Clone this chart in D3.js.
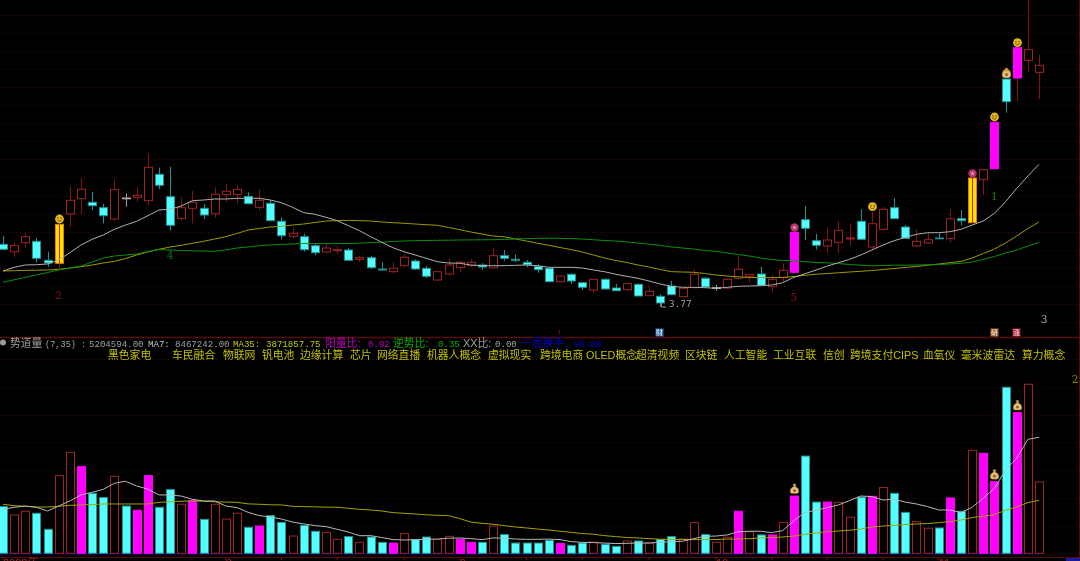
<!DOCTYPE html>
<html><head><meta charset="utf-8">
<script src="https://cdn.jsdelivr.net/npm/d3@7/dist/d3.min.js"></script>
<style>html,body{margin:0;padding:0;background:#000;overflow:hidden}svg{display:block;filter:blur(.3px)}</style>
</head><body><svg id="c" width="1080" height="561"></svg>
<script>
const opens=[4.397,4.323,4.413,4.427,4.237,4.207,4.70,4.853,4.817,4.763,
4.65,4.86,4.867,4.833,5.097,4.873,4.657,4.757,4.757,4.703,
4.893,4.897,4.877,4.767,4.807,4.627,4.477,4.473,4.383,4.32,
4.333,4.34,4.247,4.263,4.15,4.123,4.183,4.23,4.157,4.04,
4.10,4.167,4.183,4.19,4.163,4.283,4.247,4.217,4.173,4.157,
4.023,4.097,4.013,3.94,4.047,3.96,3.943,3.997,3.883,3.877,
3.98,3.873,3.963,4.057,3.963,3.96,4.057,4.077,4.10,3.973,
4.063,4.117,4.643,4.433,4.38,4.417,4.45,4.627,4.37,4.547,
4.763,4.57,4.38,4.41,4.46,4.453,4.653,4.613,5.043,5.153,
6.05,6.06,6.237,6.117];
const closes=[4.347,4.383,4.473,4.257,4.21,4.597,4.837,4.947,4.783,4.683,
4.943,4.86,4.887,5.167,4.987,4.587,4.763,4.817,4.69,4.897,
4.927,4.943,4.803,4.837,4.633,4.483,4.507,4.343,4.313,4.36,
4.343,4.237,4.263,4.163,4.14,4.157,4.267,4.15,4.077,4.123,
4.19,4.217,4.217,4.17,4.283,4.257,4.237,4.193,4.143,4.023,
4.08,4.03,3.967,4.047,3.95,3.933,4.003,3.88,3.927,3.81,
3.893,3.957,4.097,3.97,3.963,4.047,4.147,4.097,3.987,4.047,
4.137,4.517,4.557,4.387,4.44,4.537,4.46,4.447,4.603,4.747,
4.653,4.457,4.427,4.443,4.453,4.653,4.633,5.06,5.143,5.617,
5.823,6.363,6.343,6.187];
const highs=[4.48,4.413,4.507,4.457,4.323,4.60,4.98,5.057,4.92,4.80,
5.04,4.907,4.967,5.307,5.163,5.173,4.863,4.93,4.80,4.967,
5.00,4.99,4.917,4.94,4.84,4.667,4.563,4.50,4.407,4.40,
4.38,4.36,4.28,4.28,4.217,4.217,4.297,4.247,4.18,4.133,
4.25,4.233,4.247,4.207,4.36,4.34,4.297,4.24,4.193,4.167,
4.087,4.107,4.02,4.05,4.057,4.00,4.007,4.007,3.98,3.897,
4.03,3.963,4.147,4.067,3.99,4.053,4.28,4.097,4.173,4.087,
4.207,4.52,4.78,4.50,4.567,4.627,4.60,4.747,4.723,4.773,
4.857,4.59,4.54,4.507,4.507,4.747,4.74,5.06,5.143,5.62,
6.053,6.363,6.84,6.29];
const lows=[4.34,4.273,4.367,4.217,4.173,4.157,4.573,4.70,4.74,4.607,
4.633,4.773,4.823,4.79,4.947,4.533,4.633,4.607,4.65,4.663,
4.823,4.807,4.797,4.74,4.63,4.447,4.457,4.323,4.287,4.313,
4.30,4.23,4.22,4.153,4.133,4.107,4.173,4.14,4.06,4.03,
4.083,4.12,4.167,4.14,4.157,4.233,4.217,4.167,4.113,4.02,
4.017,4.00,3.94,3.913,3.947,3.927,3.927,3.877,3.88,3.77,
3.89,3.87,3.957,3.967,3.933,3.953,4.053,4.013,3.983,3.913,
4.023,4.10,4.44,4.347,4.313,4.307,4.387,4.443,4.34,4.533,
4.65,4.453,4.373,4.403,4.447,4.417,4.587,4.61,4.89,5.153,
5.713,5.83,6.123,5.85];
const maFast=[4.13,4.167,4.19,4.193,4.20,4.24,4.313,4.39,4.447,4.49,
4.547,4.59,4.627,4.683,4.74,4.747,4.78,4.833,4.84,4.85,
4.85,4.857,4.857,4.857,4.84,4.813,4.767,4.713,4.697,4.667,
4.633,4.583,4.533,4.473,4.417,4.363,4.323,4.29,4.257,4.223,
4.21,4.207,4.19,4.183,4.183,4.183,4.187,4.19,4.183,4.167,
4.167,4.167,4.16,4.14,4.123,4.097,4.077,4.057,4.03,4.00,
3.977,3.967,3.967,3.963,3.957,3.967,3.977,3.98,3.983,3.99,
4.013,4.067,4.103,4.14,4.18,4.213,4.247,4.29,4.34,4.39,
4.433,4.467,4.497,4.513,4.513,4.523,4.547,4.59,4.63,4.707,
4.823,4.957,5.08,5.197];
const maMid=[4.13,4.133,4.136,4.138,4.14,4.147,4.16,4.173,4.19,4.21,
4.227,4.255,4.29,4.32,4.347,4.37,4.387,4.407,4.427,4.45,
4.473,4.505,4.54,4.555,4.57,4.577,4.59,4.60,4.615,4.63,
4.633,4.636,4.633,4.63,4.62,4.613,4.607,4.60,4.593,4.587,
4.565,4.543,4.52,4.50,4.48,4.472,4.45,4.43,4.407,4.387,
4.365,4.344,4.32,4.29,4.26,4.235,4.215,4.19,4.17,4.145,
4.123,4.12,4.117,4.105,4.09,4.08,4.072,4.065,4.063,4.064,
4.066,4.075,4.087,4.098,4.105,4.112,4.12,4.127,4.135,4.145,
4.155,4.165,4.175,4.188,4.20,4.213,4.225,4.26,4.305,4.35,
4.41,4.48,4.555,4.62];
const maSlow=[4.017,4.042,4.066,4.091,4.115,4.14,4.16,4.18,4.22,4.26,
4.28,4.29,4.30,4.325,4.345,4.34,4.335,4.332,4.33,4.327,
4.34,4.36,4.37,4.383,4.39,4.397,4.40,4.405,4.405,4.404,
4.404,4.405,4.408,4.415,4.418,4.425,4.43,4.433,4.435,4.437,
4.438,4.44,4.441,4.442,4.443,4.446,4.45,4.454,4.457,4.457,
4.457,4.454,4.45,4.442,4.435,4.43,4.42,4.41,4.398,4.387,
4.37,4.36,4.35,4.335,4.327,4.31,4.295,4.28,4.26,4.245,
4.235,4.233,4.223,4.215,4.212,4.205,4.195,4.188,4.183,4.185,
4.188,4.188,4.19,4.192,4.195,4.20,4.207,4.22,4.245,4.275,
4.31,4.34,4.38,4.417];
const volumes=[341,280,307,292,175,567,737,633,438,407,
562,345,314,567,336,465,358,385,248,358,
250,292,190,199,275,226,126,204,161,153,
102,122,80,119,80,75,144,100,119,100,
124,102,80,80,199,137,75,75,75,95,
71,58,75,82,66,51,90,90,75,102,
122,104,224,137,80,117,307,158,134,134,
226,418,710,374,374,372,263,409,416,480,
438,299,231,183,185,404,307,752,730,523,
1212,1027,1234,520.46];
const volKinds="chhcchhmcc"+"hcmmcchmch"+"hhcmcchcch"+"hchccmhcch"+"hmmchccccc"+"mcchcchchc"+"chhchhmhcm"+"hmccmhhcmh"+"cchhcmchmm"+"cmhh";
const volMa7=[321,336,345,336,309,345,382,426,445,467,
511,526,491,469,426,426,418,394,382,382,
345,334,299,275,265,250,228,214,202,195,
175,155,128,129,115,100,97,100,102,104,
110,112,107,100,112,110,104,102,102,104,
100,85,80,78,75,71,73,75,75,80,
85,88,107,124,126,134,158,161,161,151,
166,239,299,314,334,353,385,418,414,389,
394,374,360,341,316,316,297,336,402,475,
608,694,832,846.72];
const volMa35=[358,347,343,338,338,343,350,353,356,360,
360,360,360,360,372,376,380,382,380,376,
374,372,361,358,354,353,343,341,339,337,
336,329,321,316,309,297,292,287,281,277,
275,253,228,219,212,202,192,185,177,170,
161,153,144,139,129,122,115,112,107,102,
102,101,100,100,100,104,104,107,112,115,
119,126,139,148,158,163,168,177,192,199,
204,210,214,217,224,231,243,261,270,283,
314,338,370,387.19];
const priceGrid=[3.62,3.80,3.98,4.16,4.34,4.52,4.70,4.88,5.07,5.25,5.43,5.61,5.79,5.97,6.15,6.33,6.51,6.69];
const volGrid=[201,404,607,810,1013,1217,1421];
const yellowBars=[5,87], magentaBars=[71,89,91];
const smileBars=[5,78,89,90,91], starBars=[71,87], candleBagBars=[90], volBagBars=[71,89,91];
const dateTicks=[0,20,25,30,36,41,47,52,58,64,69,74,79,84];
const dateLabels=[[0,"2022年"],[20,"8"],[41,"9"],[64,"10"],[84,"11"]];
const wavePrice=[["2",5,3.85,"#8a1010",0],["4",15,4.25,"#0c7a0c",0],["5",71,3.83,"#8a1010",0],["1",89,4.84,"#0c8a0c",0],["3",93,3.61,"#aaa",5]];
const topics=["黑色家电","车民融合","物联网","钒电池","边缘计算","芯片","网络直播","机器人概念","虚拟现实","跨境电商","OLED概念","超清视频","区块链","人工智能","工业互联","信创","跨境支付CIPS","血氧仪","毫米波雷达","算力概念"];
const topicLeft=[108,172,223,262,300,350,377,427,488,540,586,636,685,724,773,823,850,923,961,1022];
const headerRuns=[["势道量",10,"#a0a0a0","cjk"],["(7,35) :",45,"#a0a0a0","s"],["5204594.00",89,"#a0a0a0","m"],["MA7:",148,"#c8c8c8","m"],["8467242.00",175,"#a0a0a0","m"],["MA35:",233,"#c8c800","m"],["3871857.75",266,"#c8c800","m"],["阳量比:",325,"#c000c0","cjk"],["0.92",368,"#c000c0","m"],["逆势比:",393,"#00b000","cjk"],["0.35",438,"#00b000","m"],["XX比:",463,"#a0a0a0","cjk"],["0.00",495,"#a0a0a0","m"],["一周换手:",521,"#0000c8","cjk"],["96.80",574,"#0000c8","m"]];

const bars=d3.range(94);
const x=d3.scalePoint().domain(bars).range([3,1039]);
const y=d3.scaleLinear().domain([6.84,3.44]).range([0,340]);
const yv=d3.scaleLinear().domain([0,1557]).range([553.3,340]);
const svg=d3.select("#c");
svg.append("rect").attr("width",1080).attr("height",561).attr("fill","#000");

const RED="#a02424",DRED="#7e1616",CY="#55ffff",TEAL="#1f8f8f",MG="#ff00ff",BW=8;
const CJK="'Liberation Sans','Noto Sans CJK SC'", MONO="'Liberation Mono','DejaVu Sans Mono'";
const grid=(vals,sc)=>svg.append("g").selectAll("line").data(vals).join("line")
  .attr("x1",0).attr("x2",1080).attr("y1",d=>Math.round(sc(d))+.5).attr("y2",d=>Math.round(sc(d))+.5)
  .attr("stroke","#470808").attr("stroke-dasharray","1 3");
grid(priceGrid,y);grid(volGrid,yv);

// frame
const frame=svg.append("g").attr("stroke","#5a0a0a");
frame.append("line").attr("x1",0).attr("x2",1080).attr("y1",337.5).attr("y2",337.5).attr("stroke-width",1.4);
frame.append("line").attr("x1",1079.5).attr("x2",1079.5).attr("y1",0).attr("y2",557);
frame.append("line").attr("x1",0).attr("x2",1080).attr("y1",557.5).attr("y2",557.5);
svg.append("line").attr("x1",0).attr("x2",x(93)).attr("y1",yv(0)+.4).attr("y2",yv(0)+.4).attr("stroke","#000a6a").attr("stroke-width",1.6);
svg.append("rect").attr("x",1066).attr("y",558).attr("width",14).attr("height",3).attr("fill","#1a1a9a");

// date axis, its labels run off the bottom edge as in the reference
const at=svg.append("g");
at.selectAll("line").data(dateTicks).join("line").attr("x1",d=>x(d)).attr("x2",d=>x(d)).attr("y1",557).attr("y2",560).attr("stroke","#7a1010");
at.selectAll("text").data(dateLabels).join("text").attr("x",d=>x(d[0])).attr("y",567).attr("fill","#a82020")
  .attr("font-family",CJK).attr("font-size",11).text(d=>d[1]);

// candles
const cx=i=>Math.round(x(i));
const kindOf=i=>closes[i]>opens[i]?"up":closes[i]<opens[i]?"down":"flat";
const wickCol={up:DRED,down:TEAL,flat:"#999"};
svg.append("g").selectAll("line").data(bars).join("line")
  .attr("x1",i=>cx(i)+.5).attr("x2",i=>cx(i)+.5).attr("y1",i=>y(highs[i])).attr("y2",i=>y(lows[i]))
  .attr("stroke",i=>wickCol[kindOf(i)]).attr("stroke-width",1.1);
svg.append("g").selectAll("rect").data(bars).join("rect")
  .attr("x",i=>cx(i)-BW/2+.5).attr("width",BW)
  .attr("y",i=>y(Math.max(opens[i],closes[i]))).attr("height",i=>Math.max(.8,Math.abs(y(opens[i])-y(closes[i]))))
  .attr("fill",i=>yellowBars.includes(i)?"#ffe000":magentaBars.includes(i)?MG:kindOf(i)==="up"?"#000":kindOf(i)==="down"?CY:"#aaa")
  .attr("stroke",i=>yellowBars.includes(i)?"#e08000":magentaBars.includes(i)?MG:kindOf(i)==="up"?RED:kindOf(i)==="down"?TEAL:"#aaa")
  .attr("stroke-width",1);
// red centre stripe of the yellow bars
svg.append("g").selectAll("line").data(yellowBars).join("line")
  .attr("x1",i=>cx(i)+.5).attr("x2",i=>cx(i)+.5).attr("y1",i=>y(closes[i])).attr("y2",i=>y(opens[i]))
  .attr("stroke","#e02000").attr("stroke-width",1);

const priceLine=d3.line().x((d,i)=>x(i)).y(d=>y(d));
const volLine=d3.line().x((d,i)=>x(i)).y(d=>yv(d));
[[maMid,"#9a9a00"],[maSlow,"#0a900a"],[maFast,"#b0b0b0"]].forEach(([a,c])=>svg.append("path").attr("d",priceLine(a)).attr("fill","none").attr("stroke",c).attr("stroke-width",1));

// volume bars
svg.append("g").selectAll("rect").data(bars).join("rect")
  .attr("x",i=>cx(i)-BW/2+.5).attr("width",BW).attr("y",i=>yv(volumes[i])).attr("height",i=>yv(0)-yv(volumes[i]))
  .attr("fill",i=>volKinds[i]==="c"?CY:volKinds[i]==="m"?MG:"#000")
  .attr("stroke",i=>volKinds[i]==="c"?TEAL:volKinds[i]==="m"?MG:RED).attr("stroke-width",1);
[[volMa35,"#a4a400"],[volMa7,"#b8b8b8"]].forEach(([a,c])=>svg.append("path").attr("d",volLine(a)).attr("fill","none").attr("stroke",c).attr("stroke-width",1));

// icons
function smile(g,px,py){
  g.append("circle").attr("cx",px).attr("cy",py).attr("r",4.4).attr("fill","#e2b81c");
  g.append("circle").attr("cx",px-1.6).attr("cy",py-1).attr("r",.7).attr("fill","#5a3a00");
  g.append("circle").attr("cx",px+1.6).attr("cy",py-1).attr("r",.7).attr("fill","#5a3a00");
  g.append("path").attr("d",`M${px-2.2},${py+1}Q${px},${py+3.4} ${px+2.2},${py+1}`).attr("fill","none").attr("stroke","#5a3a00").attr("stroke-width",.8);
}
function star(g,px,py){
  g.append("circle").attr("cx",px).attr("cy",py).attr("r",4.2).attr("fill","#b83068");
  g.append("path").attr("d",d3.symbol(d3.symbolStar,8)()).attr("transform",`translate(${px},${py})`).attr("fill","#d8a0b0");
}
function bag(g,px,py){
  g.append("path").attr("d",`M${px-1.5},${py-5}h3l-.8,2.4c2.8,1 3.8,3 3.6,5.2c-.2,1.4 -1.2,1.9 -2.5,1.9h-3.6c-1.3,0 -2.3,-.5 -2.5,-1.9c-.2,-2.2 .8,-4.2 3.6,-5.2z`).attr("fill","#e3bf78").attr("stroke","#8a6a30").attr("stroke-width",.5);
  g.append("circle").attr("cx",px).attr("cy",py+1.5).attr("r",1.4).attr("fill","#8f5a2a");
}
const icons=svg.append("g");
smileBars.forEach(i=>smile(icons,cx(i)+.5,y(highs[i])-5));
starBars.forEach(i=>star(icons,cx(i)+.5,y(highs[i])-4.5));
candleBagBars.forEach(i=>bag(icons,cx(i)+.5,y(highs[i])-5.5));
volBagBars.forEach(i=>bag(icons,cx(i)+.5,yv(volumes[i])-7));

// wave numbers
svg.append("g").selectAll("text").data(wavePrice).join("text").attr("x",d=>x(d[1])+d[4]).attr("y",d=>y(d[2])).attr("text-anchor","middle")
  .attr("fill",d=>d[3]).attr("font-family","'DejaVu Serif','Liberation Serif'").attr("font-size",10.5).text(d=>d[0]);
svg.append("text").attr("x",1075).attr("y",383).attr("text-anchor","middle").attr("fill","#8a8a00").attr("font-family","'DejaVu Serif'").attr("font-size",10.5).text("2");

// low marker
svg.append("path").attr("d",`M${x(59)+1},${y(lows[59])-5}v5h5`).attr("fill","none").attr("stroke","#999");
svg.append("text").attr("x",669).attr("y",y(lows[59])).attr("fill","#999").attr("font-family","'DejaVu Sans Mono'").attr("font-size",9.4).text("3.77");

// small news squares along the panel edge
[[659.5,"#2f6aa8","财"],[994.5,"#a8622c","研"],[1016.5,"#b02030","涨"]].forEach(([px,c,t])=>{
  svg.append("rect").attr("x",px-4).attr("y",328.5).attr("width",8).attr("height",8).attr("fill",c);
  svg.append("text").attr("x",px).attr("y",335).attr("text-anchor","middle").attr("fill","#eee").attr("font-family",CJK).attr("font-size",7).text(t);
});
svg.append("text").attr("x",559).attr("y",334.5).attr("text-anchor","middle").attr("fill","#c81818").attr("font-family","'Liberation Sans','DejaVu Sans'").attr("font-size",8).text("↑");

// header
svg.append("circle").attr("cx",3).attr("cy",342.5).attr("r",3).attr("fill","#999");
const fontFor=d=>d[3]==="cjk"?CJK:"'DejaVu Sans Mono'";
svg.append("g").selectAll("text").data(headerRuns).join("text").attr("x",d=>d[1]).attr("y",347)
  .attr("fill",d=>d[2]).attr("font-family",d=>d[3]==="s"||d[3]==="m"?MONO:CJK)
  .attr("font-size",d=>d[3]==="cjk"?10.8:d[3]==="s"?8.6:9.1).text(d=>d[0]);
svg.append("g").selectAll("text").data(topics).join("text").attr("x",(d,i)=>topicLeft[i]).attr("y",359)
  .attr("fill","#c0c000").attr("font-family",CJK).attr("font-size",10.8).text(d=>d);
</script></body></html>
